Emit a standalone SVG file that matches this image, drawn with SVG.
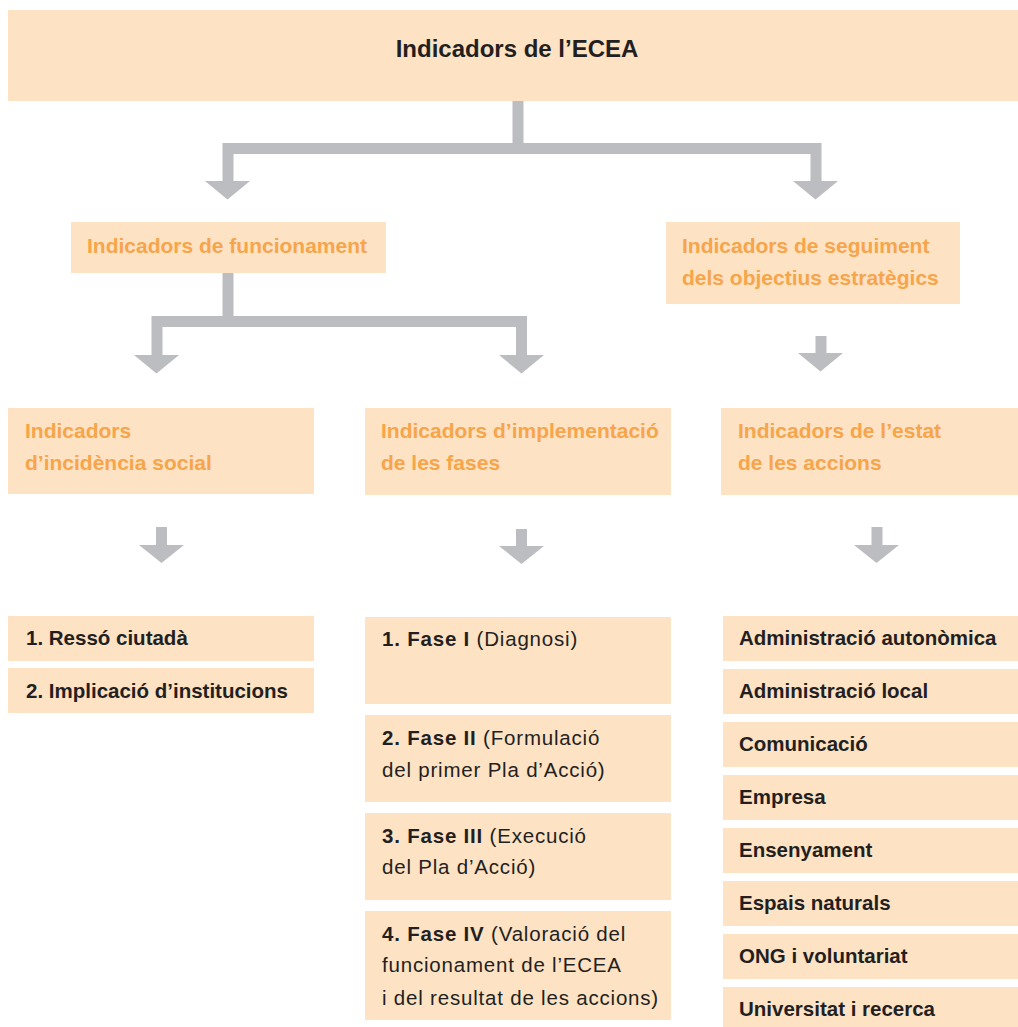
<svg xmlns="http://www.w3.org/2000/svg" width="1018" height="1027" viewBox="0 0 1018 1027">
<defs>
<style>
.box{fill:#FDE2C4}
.t{font-family:"Liberation Sans",Arial,sans-serif;fill:#231F20}
.title{font-size:24px;font-weight:bold;text-anchor:middle}
.h{font-family:"Liberation Sans",Arial,sans-serif;font-size:21px;font-weight:bold;fill:#F6A54B}
.li{font-size:20.5px;font-weight:bold}
.fa{font-size:20.5px;letter-spacing:0.8px}
.b{font-weight:bold}
.bar{fill:none;stroke:#BCBDC0;stroke-width:11;stroke-linejoin:miter}
.ah{fill:#BCBDC0}
</style>
</defs>
<rect width="1018" height="1027" fill="#fff"/>

<g id="connectors">
<path class="bar" d="M518,101 V148.5"/>
<path class="bar" d="M228,182 V148.5 H816 V182"/>
<polygon class="ah" points="205,181 250,181 227.5,199.5"/>
<polygon class="ah" points="793,181 838,181 815.5,199.5"/>
<path class="bar" d="M228,273 V321.5"/>
<path class="bar" d="M157,356 V321.5 H521.5 V356"/>
<polygon class="ah" points="134,355 179,355 156.5,373.5"/>
<polygon class="ah" points="499,355 544,355 521.5,373.5"/>
<path class="bar" d="M821,336 V354"/>
<polygon class="ah" points="798,353 843,353 820.5,371.5"/>
<path class="bar" d="M161.5,527 V546"/>
<polygon class="ah" points="139,545 184,545 161.5,563"/>
<path class="bar" d="M521.5,529 V547"/>
<polygon class="ah" points="499,546 544,546 521.5,564"/>
<path class="bar" d="M877,527 V546"/>
<polygon class="ah" points="854,545 899,545 876.5,563"/>
</g>

<g id="root">
<rect class="box" x="8" y="10" width="1010" height="91"/>
<text class="t title" x="517" y="57">Indicadors de l’ECEA</text>
</g>

<g id="funcionament">
<rect class="box" x="71" y="222" width="315" height="51"/>
<text class="h" x="87" y="253">Indicadors de funcionament</text>
</g>

<g id="seguiment">
<rect class="box" x="666" y="222" width="294" height="82"/>
<text class="h" x="682" y="253">Indicadors de seguiment</text>
<text class="h" x="682" y="285">dels objectius estratègics</text>
</g>

<g id="incidencia">
<rect class="box" x="8" y="408" width="306" height="86"/>
<text class="h" x="25" y="438">Indicadors</text>
<text class="h" x="25" y="470">d’incidència social</text>
</g>

<g id="implementacio">
<rect class="box" x="365" y="408" width="306" height="87"/>
<text class="h" x="381" y="438">Indicadors d’implementació</text>
<text class="h" x="381" y="470">de les fases</text>
</g>

<g id="estat">
<rect class="box" x="721" y="408" width="297" height="87"/>
<text class="h" x="738" y="438">Indicadors de l’estat</text>
<text class="h" x="738" y="470">de les accions</text>
</g>

<g id="resso">
<rect class="box" x="8" y="616" width="306" height="45"/>
<text class="t li" x="26" y="645">1. Ressó ciutadà</text>
</g>
<g id="implicacio">
<rect class="box" x="8" y="668" width="306" height="45"/>
<text class="t li" x="26" y="698">2. Implicació d’institucions</text>
</g>

<g id="fase1">
<rect class="box" x="365" y="617" width="306" height="87"/>
<text class="t fa" x="382" y="646"><tspan class="b">1. Fase I</tspan> (Diagnosi)</text>
</g>
<g id="fase2">
<rect class="box" x="365" y="715" width="306" height="87"/>
<text class="t fa" x="382" y="745"><tspan class="b">2. Fase II</tspan> (Formulació</text>
<text class="t fa" x="382" y="777">del primer Pla d’Acció)</text>
</g>
<g id="fase3">
<rect class="box" x="365" y="813" width="306" height="87"/>
<text class="t fa" x="382" y="843"><tspan class="b">3. Fase III</tspan> (Execució</text>
<text class="t fa" x="382" y="874">del Pla d’Acció)</text>
</g>
<g id="fase4">
<rect class="box" x="365" y="911" width="306" height="109"/>
<text class="t fa" x="382" y="941"><tspan class="b">4. Fase IV</tspan> (Valoració del</text>
<text class="t fa" x="382" y="972">funcionament de l’ECEA</text>
<text class="t fa" x="382" y="1005">i del resultat de les accions)</text>
</g>

<g id="autonomica">
<rect class="box" x="723" y="616" width="295" height="45"/>
<text class="t li" x="739" y="645">Administració autonòmica</text>
</g>
<g id="local">
<rect class="box" x="723" y="669" width="295" height="45"/>
<text class="t li" x="739" y="698">Administració local</text>
</g>
<g id="comunicacio">
<rect class="box" x="723" y="722" width="295" height="45"/>
<text class="t li" x="739" y="751">Comunicació</text>
</g>
<g id="empresa">
<rect class="box" x="723" y="775" width="295" height="45"/>
<text class="t li" x="739" y="804">Empresa</text>
</g>
<g id="ensenyament">
<rect class="box" x="723" y="828" width="295" height="45"/>
<text class="t li" x="739" y="857">Ensenyament</text>
</g>
<g id="espais">
<rect class="box" x="723" y="881" width="295" height="45"/>
<text class="t li" x="739" y="910">Espais naturals</text>
</g>
<g id="ong">
<rect class="box" x="723" y="934" width="295" height="45"/>
<text class="t li" x="739" y="963">ONG i voluntariat</text>
</g>
<g id="universitat">
<rect class="box" x="723" y="987" width="295" height="45"/>
<text class="t li" x="739" y="1016">Universitat i recerca</text>
</g>
</svg>
